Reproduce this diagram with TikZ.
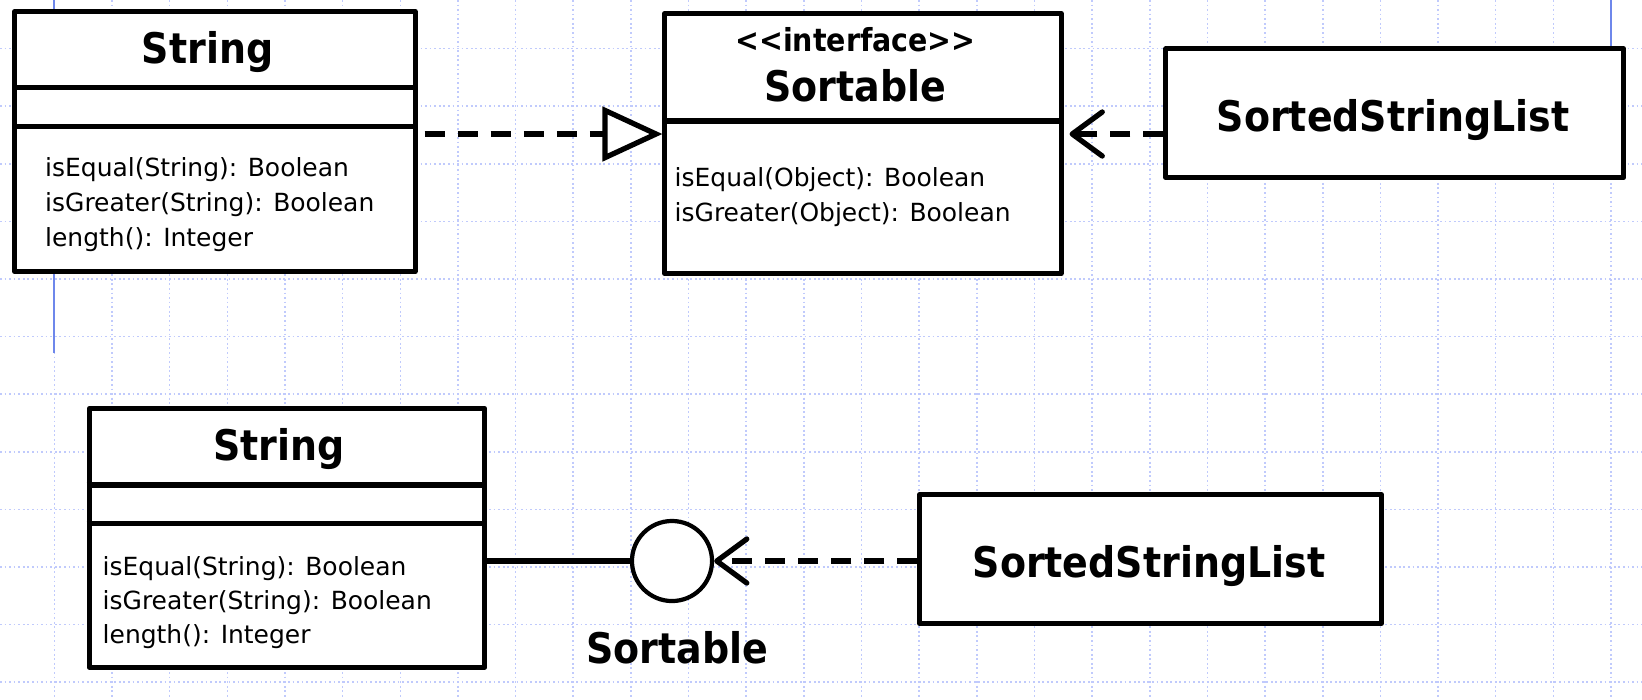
\documentclass[tikz,border=0pt]{standalone}
\usepackage{fontspec}
\setmainfont{DejaVu Sans}
\newfontfamily\condfont{DejaVu Sans Condensed}
\usetikzlibrary{arrows.meta}
\definecolor{gridblue}{RGB}{192,202,252}
\definecolor{guideblue}{RGB}{110,135,235}
\tikzset{
	cls/.style={draw, line width=1.4pt, fill=white, inner sep=0pt},
	sep/.style={line width=1.45pt},
	ttl/.style={font=\condfont\bfseries\fontsize{12}{14}\selectfont, inner sep=0pt, anchor=base},
	stereo/.style={font=\condfont\bfseries\fontsize{9}{11}\selectfont, inner sep=0pt, anchor=base},
	meth/.style={font=\fontsize{7.1}{9}\selectfont, inner sep=0pt, anchor=base west},
	gridline/.style={gridblue, line width=0.45pt, dash pattern=on 0.5pt off 0.8pt},
	dashline/.style={line width=1.5pt, dash pattern=on 5.7pt off 3.7pt},
	realize/.style={dashline, -{Triangle[open, fill=white, length=6mm, width=5.4mm]}},
	depend/.style={dashline, -{Straight Barb[length=3mm, width=4.4mm, round]}},
}
\begin{document}
\begin{tikzpicture}[x=0.01cm, y=-0.01cm, line join=round]
	\useasboundingbox (0,0) rectangle (1642,699);
	\fill[white] (0,0) rectangle (1642,699);
	% dotted grid + guides
	\foreach \k in {0,...,11} \draw[gridline] (0,{48.5+57.6*\k}) -- (1642,{48.5+57.6*\k});
	\foreach \k in {0,...,27} \draw[gridline] ({54.4+57.65*\k},0) -- ({54.4+57.65*\k},699);
	\draw[guideblue, line width=0.6pt] (54.4,0) -- (54.4,353);
	\draw[guideblue, line width=0.6pt] (1611,0) -- (1611,47);
	% class String realizes <<interface>> Sortable
	\node[cls, minimum width=4cm, minimum height=2.6cm] (str) at (215,141.5) {};
	\draw[sep] (str.west |- 0,87.5) -- (str.east |- 0,87.5);
	\draw[sep] (str.west |- 0,126.5) -- (str.east |- 0,126.5);
	\node[ttl] (strname) at (207.5,63.3) {String};
	\foreach \t [count=\i] in {isEqual(String): Boolean, isGreater(String): Boolean, length(): Integer}
		\node[meth] (strm\i) at (44.5,{176.7+34.7*(\i-1)}) {\t};
	\node[cls, minimum width=3.96cm, minimum height=2.6cm] (sort) at (863,143.5) {};
	\draw[sep] (sort.west |- 0,121) -- (sort.east |- 0,121);
	\node[stereo] (sortst) at (855.6,51.7) {<\kern0pt<interface>\kern0pt>};
	\node[ttl] (sortname) at (855,101.7) {Sortable};
	\foreach \t [count=\i] in {isEqual(Object): Boolean, isGreater(Object): Boolean}
		\node[meth] (sortm\i) at (674,{186.7+35*(\i-1)}) {\t};
	\node[cls, minimum width=4.576cm, minimum height=1.287cm] (ssl) at (1394.8,113.3) {};
	\node[ttl] (sslname) at (1393,131.7) {SortedStringList};
	\draw[realize, shorten <=0.07cm] (str.east |- 0,134) -- (sort.west |- 0,134);
	\draw[depend, shorten >=0.06cm] (ssl.west |- 0,134) -- (sort.east |- 0,134);
	% same thing, lollipop notation
	\node[cls, minimum width=3.954cm, minimum height=2.585cm] (str2) at (287,537.8) {};
	\draw[sep] (str2.west |- 0,485) -- (str2.east |- 0,485);
	\draw[sep] (str2.west |- 0,523.3) -- (str2.east |- 0,523.3);
	\node[ttl] (str2name) at (279,460) {String};
	\foreach \t [count=\i] in {isEqual(String): Boolean, isGreater(String): Boolean, length(): Integer}
		\node[meth] (str2m\i) at (102,{575+34.2*(\i-1)}) {\t};
	\node[draw, circle, line width=1.2pt, minimum size=0.8cm, inner sep=0pt, fill=white] (iface) at (672,561) {};
	\node[ttl] (ifacename) at (677.5,663) {Sortable};
	\draw[sep] (str2.east |- iface.west) -- (iface.west);
	\node[cls, minimum width=4.61cm, minimum height=1.294cm] (ssl2) at (1150.5,559) {};
	\node[ttl] (ssl2name) at (1149,577.7) {SortedStringList};
	\draw[depend] (ssl2.west |- iface.east) -- (iface.east);
\end{tikzpicture}
\end{document}
